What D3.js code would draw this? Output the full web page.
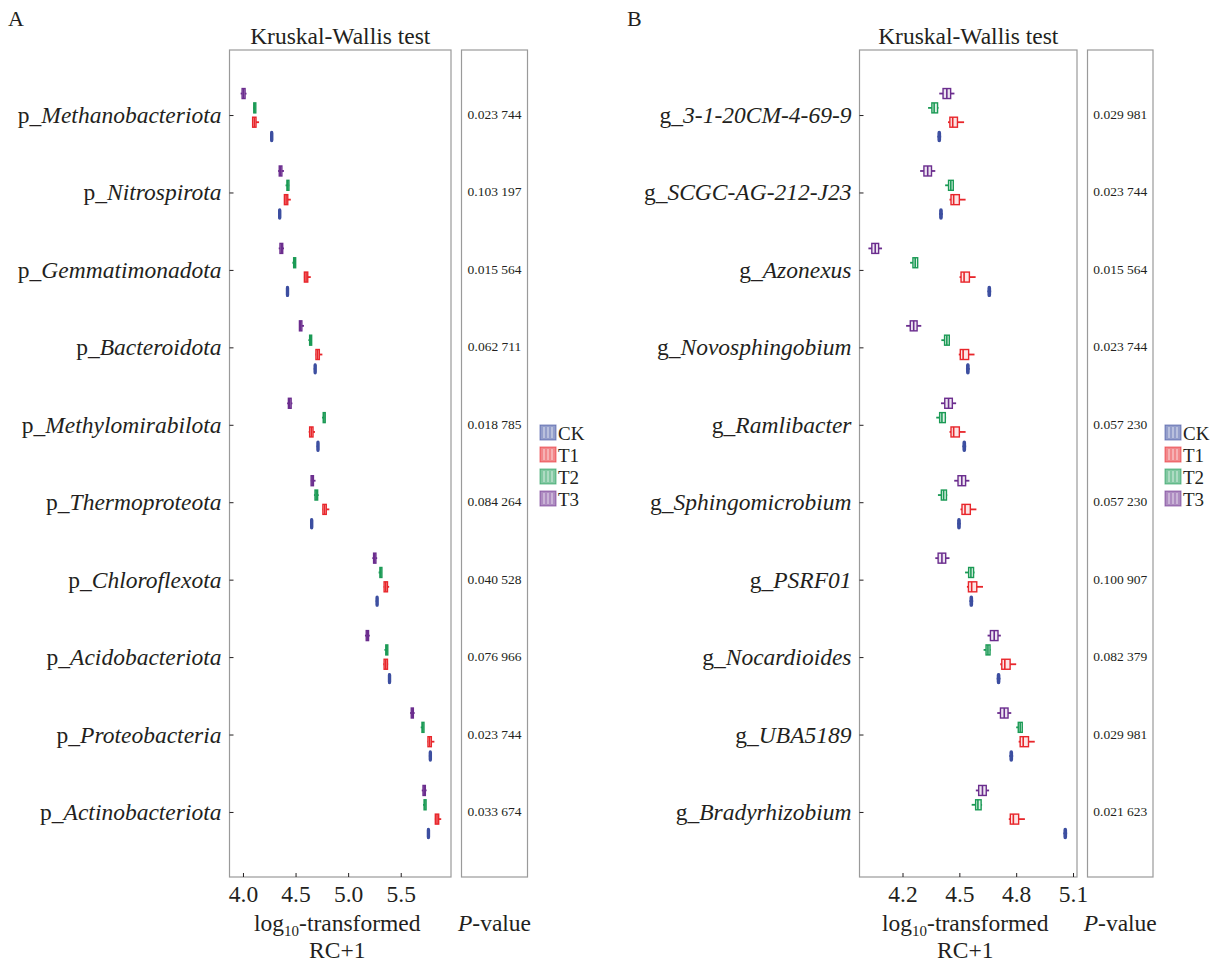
<!DOCTYPE html>
<html>
<head>
<meta charset="utf-8">
<script src="https://cdn.jsdelivr.net/npm/d3@7"></script>
<style>
  body { margin: 0; background: #fff; }
  svg { font-family: "Liberation Serif", "Times New Roman", serif; }
</style>
</head>
<body>
<svg id="chart" width="1228" height="965"></svg>
<script>
// groups, top to bottom inside each category
const groups = ["T3", "T2", "T1", "CK"];
const legendGroups = ["CK", "T1", "T2", "T3"];
const groupColors = { CK: "#3c4ea0", T1: "#e8262b", T2: "#1b9a55", T3: "#6b2d8e" };

// panel A
const phyla = ["Methanobacteriota", "Nitrospirota", "Gemmatimonadota", "Bacteroidota",
  "Methylomirabilota", "Thermoproteota", "Chloroflexota", "Acidobacteriota",
  "Proteobacteria", "Actinobacteriota"];
const phylaP = ["0.023 744", "0.103 197", "0.015 564", "0.062 711", "0.018 785",
  "0.084 264", "0.040 528", "0.076 966", "0.023 744", "0.033 674"];
const phylaTicks = [4.0, 4.5, 5.0, 5.5];
// [min, q1, median, q3, max]
const phylaCK = [[4.26, 4.264, 4.27, 4.276, 4.28], [4.336, 4.34, 4.346, 4.352, 4.356],
  [4.41, 4.414, 4.42, 4.426, 4.43], [4.673, 4.677, 4.683, 4.689, 4.693],
  [4.70, 4.704, 4.71, 4.716, 4.72], [4.64, 4.644, 4.65, 4.656, 4.66],
  [5.262, 5.266, 5.272, 5.278, 5.282], [5.38, 5.384, 5.39, 5.396, 5.40],
  [5.768, 5.772, 5.778, 5.784, 5.788], [5.75, 5.754, 5.76, 5.766, 5.77]];
const phylaT1 = [[4.088, 4.092, 4.108, 4.124, 4.153], [4.39, 4.394, 4.41, 4.426, 4.455],
  [4.58, 4.584, 4.60, 4.616, 4.645], [4.69, 4.694, 4.71, 4.726, 4.755],
  [4.625, 4.634, 4.65, 4.666, 4.685], [4.756, 4.76, 4.776, 4.792, 4.821],
  [5.338, 5.342, 5.358, 5.374, 5.39], [5.335, 5.342, 5.358, 5.374, 5.38],
  [5.755, 5.759, 5.775, 5.791, 5.82], [5.825, 5.829, 5.845, 5.861, 5.885]];
const phylaT2 = [[4.098, 4.103, 4.11, 4.118, 4.12], [4.405, 4.418, 4.426, 4.436, 4.44],
  [4.47, 4.482, 4.49, 4.5, 4.502], [4.622, 4.634, 4.642, 4.652, 4.656],
  [4.752, 4.763, 4.77, 4.778, 4.78], [4.675, 4.685, 4.696, 4.71, 4.72],
  [5.29, 5.302, 5.31, 5.318, 5.32], [5.345, 5.358, 5.367, 5.376, 5.378],
  [5.69, 5.702, 5.71, 5.718, 5.72], [5.712, 5.722, 5.73, 5.738, 5.74]];
const phylaT3 = [[3.978, 3.992, 4.006, 4.02, 4.034], [4.335, 4.345, 4.356, 4.37, 4.39],
  [4.34, 4.352, 4.365, 4.378, 4.39], [4.535, 4.537, 4.547, 4.56, 4.58],
  [4.42, 4.432, 4.445, 4.458, 4.47], [4.645, 4.648, 4.658, 4.67, 4.69],
  [5.23, 5.242, 5.253, 5.264, 5.276], [5.16, 5.172, 5.183, 5.194, 5.206],
  [5.59, 5.6, 5.61, 5.62, 5.632], [5.70, 5.712, 5.723, 5.734, 5.746]];

// panel B
const genera = ["3-1-20CM-4-69-9", "SCGC-AG-212-J23", "Azonexus", "Novosphingobium",
  "Ramlibacter", "Sphingomicrobium", "PSRF01", "Nocardioides", "UBA5189", "Bradyrhizobium"];
const generaP = ["0.029 981", "0.023 744", "0.015 564", "0.023 744", "0.057 230",
  "0.057 230", "0.100 907", "0.082 379", "0.029 981", "0.021 623"];
const generaTicks = [4.2, 4.5, 4.8, 5.1];
const generaCK = [[4.384, 4.388, 4.394, 4.40, 4.404], [4.393, 4.397, 4.403, 4.409, 4.413],
  [4.648, 4.652, 4.658, 4.664, 4.668], [4.535, 4.539, 4.545, 4.551, 4.555],
  [4.516, 4.52, 4.526, 4.532, 4.536], [4.488, 4.492, 4.498, 4.504, 4.508],
  [4.553, 4.557, 4.563, 4.569, 4.573], [4.697, 4.701, 4.707, 4.713, 4.717],
  [4.764, 4.768, 4.774, 4.78, 4.784], [5.049, 5.053, 5.059, 5.065, 5.069]];
const generaT1 = [[4.44, 4.45, 4.465, 4.49, 4.525], [4.448, 4.456, 4.47, 4.50, 4.533],
  [4.501, 4.509, 4.525, 4.553, 4.586], [4.497, 4.505, 4.52, 4.549, 4.58],
  [4.448, 4.456, 4.47, 4.50, 4.533], [4.506, 4.514, 4.53, 4.558, 4.59],
  [4.54, 4.548, 4.565, 4.592, 4.625], [4.716, 4.724, 4.74, 4.768, 4.80],
  [4.813, 4.821, 4.837, 4.865, 4.898], [4.761, 4.769, 4.785, 4.813, 4.846]];
const generaT2 = [[4.335, 4.355, 4.367, 4.385, 4.39], [4.425, 4.443, 4.455, 4.468, 4.47],
  [4.24, 4.255, 4.267, 4.28, 4.282], [4.405, 4.422, 4.434, 4.447, 4.45],
  [4.378, 4.396, 4.408, 4.426, 4.43], [4.387, 4.405, 4.417, 4.432, 4.436],
  [4.53, 4.549, 4.561, 4.575, 4.58], [4.628, 4.641, 4.651, 4.662, 4.665],
  [4.80, 4.811, 4.821, 4.832, 4.835], [4.565, 4.586, 4.598, 4.615, 4.62]];
const generaT3 = [[4.394, 4.414, 4.434, 4.454, 4.474], [4.293, 4.313, 4.333, 4.353, 4.373],
  [4.02, 4.038, 4.056, 4.074, 4.092], [4.219, 4.241, 4.259, 4.277, 4.299],
  [4.403, 4.423, 4.443, 4.463, 4.483], [4.473, 4.493, 4.513, 4.533, 4.553],
  [4.373, 4.388, 4.408, 4.428, 4.448], [4.649, 4.664, 4.684, 4.704, 4.719],
  [4.70, 4.717, 4.737, 4.757, 4.774], [4.587, 4.602, 4.622, 4.642, 4.657]];

const svg = d3.select("#chart");
const boxTop = 50, boxBottom = 877;
const fs = 23.5;

function drawPanel(o) {
  const g = svg.append("g");
  const x = d3.scaleLinear().domain(o.domain).range([o.left, o.right]);
  const y = d3.scalePoint().domain(o.names).range([boxTop, boxBottom]).padding(0.84);
  const off = d3.scalePoint().domain(groups).range([-21.5, 21.5]);

  g.append("text").attr("x", o.letterX).attr("y", 26).attr("font-size", 22)
    .attr("fill", "#231f20").text(o.letter);
  g.append("text").attr("x", (o.left + o.right) / 2).attr("y", 44)
    .attr("text-anchor", "middle").attr("font-size", fs).attr("fill", "#231f20")
    .text("Kruskal-Wallis test");

  g.append("rect").attr("x", o.left).attr("y", boxTop)
    .attr("width", o.right - o.left).attr("height", boxBottom - boxTop)
    .attr("fill", "none").attr("stroke", "#9a9a9a").attr("stroke-width", 1.2);
  g.append("rect").attr("x", o.pLeft).attr("y", boxTop)
    .attr("width", o.pRight - o.pLeft).attr("height", boxBottom - boxTop)
    .attr("fill", "none").attr("stroke", "#9a9a9a").attr("stroke-width", 1.2);

  // axes, ticks pointing inward
  const xAxis = g.append("g").attr("transform", `translate(0,${boxBottom})`)
    .call(d3.axisBottom(x).tickValues(o.ticks).tickFormat(d3.format(".1f")).tickSize(-4).tickPadding(8));
  xAxis.select(".domain").remove();
  xAxis.selectAll(".tick line").attr("stroke", "#231f20");
  xAxis.selectAll("text").attr("font-size", fs).attr("fill", "#231f20")
    .attr("font-family", "Liberation Serif");

  const yAxis = g.append("g").attr("transform", `translate(${o.left},0)`)
    .call(d3.axisLeft(y).tickSize(-4).tickFormat(""));
  yAxis.select(".domain").remove();
  yAxis.selectAll(".tick line").attr("stroke", "#231f20");

  // category labels
  g.selectAll(".lab").data(o.names).join("text")
    .attr("x", o.left - 8).attr("y", d => y(d) + 8)
    .attr("text-anchor", "end").attr("font-size", fs).attr("fill", "#231f20")
    .each(function (d) {
      const t = d3.select(this);
      t.append("tspan").text(o.prefix);
      t.append("tspan").attr("font-style", "italic").text(d);
    });

  // p-values
  g.selectAll(".pv").data(o.pvals).join("text")
    .attr("x", (o.pLeft + o.pRight) / 2).attr("y", (d, i) => y(o.names[i]) + 4)
    .attr("text-anchor", "middle").attr("font-size", 13.5).attr("fill", "#231f20")
    .text(d => d);

  // boxes
  const bh = 10;
  groups.forEach(gr => {
    const col = groupColors[gr];
    const vals = o.data[gr];
    const bg = g.append("g").selectAll("g").data(vals).join("g")
      .attr("transform", (d, i) => `translate(0,${y(o.names[i]) + off(gr)})`);
    bg.append("line").attr("x1", d => x(d[0])).attr("x2", d => x(d[1]))
      .attr("stroke", col).attr("stroke-width", 1.8);
    bg.append("line").attr("x1", d => x(d[3])).attr("x2", d => x(d[4]))
      .attr("stroke", col).attr("stroke-width", 1.8);
    bg.append("rect").attr("x", d => x(d[1])).attr("y", -bh / 2)
      .attr("width", d => Math.max(2, x(d[3]) - x(d[1]))).attr("height", bh)
      .attr("rx", gr === "CK" ? 1.5 : 0)
      .attr("fill", col).attr("fill-opacity", gr === "CK" ? 0.9 : 0.12)
      .attr("stroke", col).attr("stroke-width", 1.4);
    bg.append("line").attr("x1", d => x(d[2])).attr("x2", d => x(d[2]))
      .attr("y1", -bh / 2).attr("y2", bh / 2)
      .attr("stroke", col).attr("stroke-width", 1.6);
  });

  // axis titles
  const cx = (o.left + o.right) / 2 - 3;
  const xt = g.append("text").attr("x", cx).attr("y", 931)
    .attr("text-anchor", "middle").attr("font-size", fs).attr("fill", "#231f20");
  xt.append("tspan").text("log");
  xt.append("tspan").attr("font-size", 15).attr("dy", 5).text("10");
  xt.append("tspan").attr("dy", -5).text("-transformed");
  g.append("text").attr("x", cx).attr("y", 958)
    .attr("text-anchor", "middle").attr("font-size", fs).attr("fill", "#231f20").text("RC+1");
  const pt = g.append("text").attr("x", (o.pLeft + o.pRight) / 2).attr("y", 931)
    .attr("text-anchor", "middle").attr("font-size", fs).attr("fill", "#231f20");
  pt.append("tspan").attr("font-style", "italic").text("P");
  pt.append("tspan").text("-value");

  // legend
  const lg = g.append("g").attr("transform", `translate(${o.legendX},425)`);
  const li = lg.selectAll("g").data(legendGroups).join("g")
    .attr("transform", (d, i) => `translate(0,${i * 22})`);
  li.append("rect").attr("width", 16).attr("height", 15)
    .attr("fill", d => groupColors[d]).attr("fill-opacity", 0.55)
    .attr("stroke", d => groupColors[d]).attr("stroke-opacity", 0.6);
  li.each(function (d) {
    const s = d3.select(this);
    [4, 8, 12].forEach(v => s.append("line").attr("x1", v).attr("x2", v)
      .attr("y1", 2).attr("y2", 13).attr("stroke", "#fff").attr("stroke-opacity", 0.7));
  });
  li.append("text").attr("x", 18).attr("y", 14.5).attr("font-size", 19)
    .attr("fill", "#231f20").text(d => d);
}

drawPanel({
  letter: "A", letterX: 8, names: phyla, pvals: phylaP, prefix: "p_",
  domain: [3.872, 5.978], left: 229.5, right: 451, pLeft: 461.5, pRight: 527.5,
  ticks: phylaTicks, legendX: 540,
  data: { CK: phylaCK, T1: phylaT1, T2: phylaT2, T3: phylaT3 }
});
drawPanel({
  letter: "B", letterX: 627, names: genera, pvals: generaP, prefix: "g_",
  domain: [3.973, 5.121], left: 859.5, right: 1077, pLeft: 1087.5, pRight: 1153,
  ticks: generaTicks, legendX: 1165,
  data: { CK: generaCK, T1: generaT1, T2: generaT2, T3: generaT3 }
});
</script>
</body>
</html>
